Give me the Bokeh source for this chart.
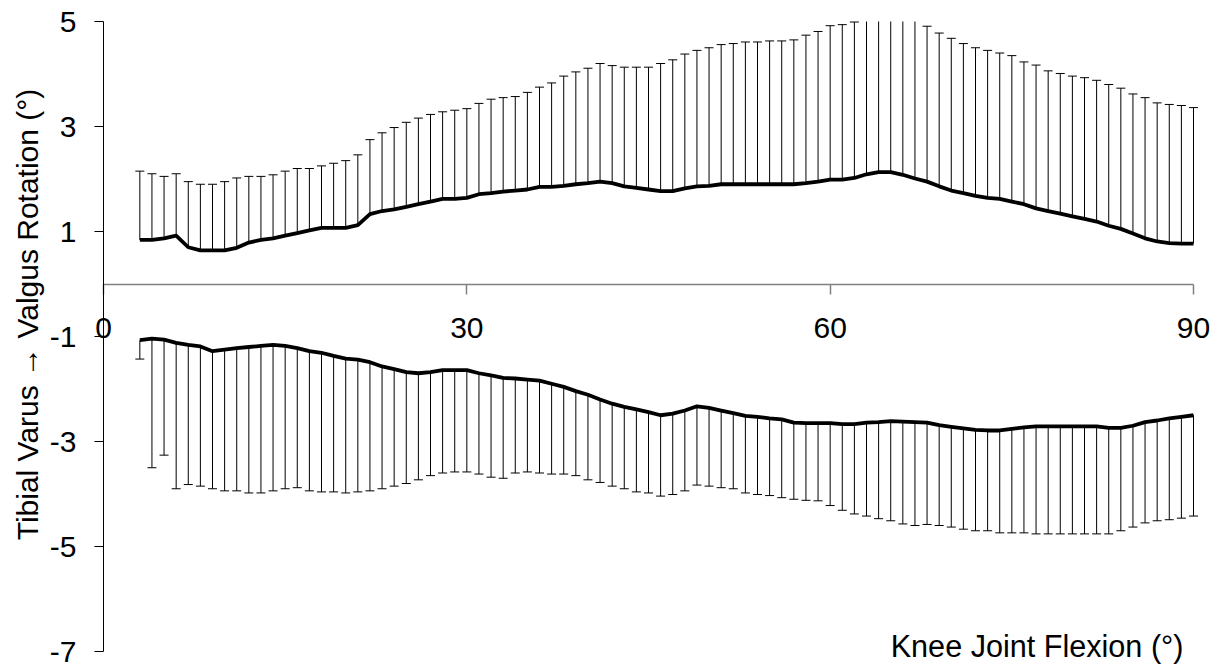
import math
from bokeh.plotting import figure
from bokeh.models import FixedTicker, Range1d, LinearAxis
from bokeh.core.properties import value
from bokeh.embed import file_html
from bokeh.resources import INLINE

# ---------------- data ----------------
flexion = list(range(3, 91))  # knee joint flexion (deg)

valgus_mean = [0.84, 0.84, 0.87, 0.92, 0.70, 0.64, 0.64, 0.64, 0.69, 0.79,
               0.84, 0.87, 0.92, 0.97, 1.02, 1.07, 1.07, 1.07, 1.12, 1.33,
               1.39, 1.42, 1.47, 1.52, 1.57, 1.62, 1.62, 1.64, 1.71, 1.73,
               1.76, 1.78, 1.80, 1.85, 1.85, 1.87, 1.90, 1.92, 1.95, 1.92,
               1.86, 1.83, 1.80, 1.77, 1.77, 1.82, 1.86, 1.87, 1.90, 1.90,
               1.90, 1.90, 1.90, 1.90, 1.90, 1.92, 1.95, 1.99, 1.99, 2.02,
               2.09, 2.13, 2.13, 2.08, 2.01, 1.95, 1.86, 1.78, 1.73, 1.68,
               1.64, 1.62, 1.57, 1.52, 1.44, 1.39, 1.34, 1.29, 1.24, 1.19,
               1.11, 1.05, 0.96, 0.87, 0.81, 0.78, 0.77, 0.77]

valgus_upper = [2.15, 2.10, 2.05, 2.10, 1.95, 1.90, 1.90, 1.95, 2.02, 2.05,
                2.05, 2.08, 2.15, 2.20, 2.20, 2.25, 2.30, 2.35, 2.46, 2.75,
                2.88, 2.98, 3.08, 3.16, 3.23, 3.28, 3.31, 3.34, 3.44, 3.52,
                3.55, 3.57, 3.65, 3.75, 3.83, 3.96, 4.04, 4.11, 4.20, 4.16,
                4.13, 4.13, 4.13, 4.20, 4.27, 4.38, 4.45, 4.50, 4.56, 4.58,
                4.61, 4.61, 4.63, 4.63, 4.65, 4.74, 4.81, 4.92, 4.94, 4.99,
                5.08, 5.12, 5.12, 5.10, 5.04, 4.91, 4.78, 4.68, 4.58, 4.50,
                4.45, 4.40, 4.35, 4.23, 4.17, 4.06, 4.01, 3.96, 3.93, 3.88,
                3.80, 3.73, 3.62, 3.55, 3.45, 3.42, 3.40, 3.36]

varus_mean = [-1.07, -1.04, -1.06, -1.12, -1.16, -1.19, -1.28, -1.25, -1.22, -1.20,
              -1.18, -1.16, -1.18, -1.22, -1.28, -1.31, -1.37, -1.42, -1.44, -1.49,
              -1.57, -1.62, -1.68, -1.70, -1.68, -1.64, -1.64, -1.64, -1.70, -1.74,
              -1.79, -1.80, -1.82, -1.84, -1.90, -1.96, -2.04, -2.11, -2.20, -2.28,
              -2.34, -2.39, -2.44, -2.50, -2.47, -2.41, -2.33, -2.36, -2.41, -2.46,
              -2.51, -2.53, -2.56, -2.58, -2.64, -2.65, -2.65, -2.65, -2.67, -2.67,
              -2.64, -2.63, -2.61, -2.62, -2.63, -2.64, -2.69, -2.72, -2.75, -2.78,
              -2.79, -2.79, -2.76, -2.73, -2.71, -2.71, -2.71, -2.71, -2.71, -2.71,
              -2.74, -2.74, -2.70, -2.63, -2.60, -2.56, -2.53, -2.50]

varus_lower = [-1.43, -3.50, -3.26, -3.90, -3.82, -3.85, -3.90, -3.94, -3.94, -3.98,
               -3.98, -3.94, -3.90, -3.88, -3.94, -3.96, -3.96, -3.98, -3.96, -3.94,
               -3.90, -3.85, -3.80, -3.73, -3.65, -3.60, -3.58, -3.58, -3.62, -3.68,
               -3.70, -3.60, -3.58, -3.60, -3.62, -3.62, -3.65, -3.73, -3.78, -3.85,
               -3.90, -3.96, -3.98, -4.04, -4.01, -3.94, -3.83, -3.85, -3.88, -3.90,
               -3.98, -4.01, -4.03, -4.07, -4.10, -4.12, -4.13, -4.22, -4.31, -4.38,
               -4.42, -4.47, -4.51, -4.57, -4.60, -4.58, -4.60, -4.63, -4.67, -4.70,
               -4.70, -4.74, -4.74, -4.74, -4.76, -4.76, -4.76, -4.76, -4.76, -4.76,
               -4.76, -4.70, -4.63, -4.55, -4.51, -4.49, -4.46, -4.42]

x_ticks = [0, 30, 60, 90]
x_tick_labels = ["0", "30", "60", "90"]
y_ticks = [5, 3, 1, -1, -3, -5, -7]
y_tick_labels = ["5", "3", "1", "-1", "-3", "-5", "-7"]

x_title = "Knee Joint Flexion (°)"
y_title = "Tibial Varus \u2192 Valgus Rotation (°)"

FONT = "Liberation Sans"
FSIZE = "30px"

# ---------------- layout geometry (pixels) ----------------
W, H = 1224, 668
X0_PX, X90_PX = 103, 1193        # where 0 and 90 deg sit
Y5_PX, YM7_PX = 21, 651          # where 5 and -7 sit
Y_MIN, Y_MAX = -7, 5             # value axis extent
ppx = (X90_PX - X0_PX) / 90.0
ppy = (YM7_PX - Y5_PX) / 12.0
x_start = -X0_PX / ppx
x_end = (W - X0_PX) / ppx
y_top = Y_MAX + Y5_PX / ppy
y_bottom = Y_MIN - (H - YM7_PX) / ppy


def px_to_x(px):
    return (px - X0_PX) / ppx


def px_to_y(py):
    return Y_MAX - (py - Y5_PX) / ppy


p = figure(width=W, height=H, output_backend="svg", toolbar_location=None,
           tools="", title=None, x_axis_location=None, y_axis_location=None,
           x_range=Range1d(x_start, x_end), y_range=Range1d(y_bottom, y_top),
           min_border_left=0, min_border_right=0, min_border_top=0,
           min_border_bottom=0)
p.outline_line_color = None
p.background_fill_color = "white"
p.border_fill_color = "white"
p.grid.visible = False

# ---- y axis at x = 0 ----
ya = LinearAxis(fixed_location=0, bounds=(Y_MIN, Y_MAX),
                ticker=FixedTicker(ticks=y_ticks, minor_ticks=[]))
ya.major_label_overrides = {t: s for t, s in zip(y_ticks, y_tick_labels)}
ya.major_label_text_font = FONT
ya.major_label_text_font_size = FSIZE
ya.major_label_text_color = "black"
ya.major_tick_out = 9
ya.major_tick_in = 0
ya.minor_tick_out = 0
ya.minor_tick_in = 0
ya.major_label_standoff = 18
ya.axis_line_color = "black"
ya.major_tick_line_color = "black"
p.add_layout(ya, "left")

# ---- x axis at y = 0 ----
xa = LinearAxis(fixed_location=0, bounds=(x_ticks[0], x_ticks[-1]),
                ticker=FixedTicker(ticks=x_ticks, minor_ticks=[]))
xa.major_label_overrides = {t: s for t, s in zip(x_ticks, x_tick_labels)}
xa.major_label_text_font = FONT
xa.major_label_text_font_size = FSIZE
xa.major_label_text_color = "black"
xa.major_tick_out = 10
xa.major_tick_in = 0
xa.minor_tick_out = 0
xa.minor_tick_in = 0
xa.major_label_standoff = 24
xa.axis_line_color = "#808080"
xa.axis_line_width = 1.5
xa.major_tick_line_color = "#808080"
xa.major_tick_line_width = 1.5
p.add_layout(xa, "below")

# error bars are cut where they leave the value axis (as in the source chart)
valgus_upper_shown = [min(v, Y_MAX) for v in valgus_upper]
cap_x = [x for x, v in zip(flexion, valgus_upper) if v <= Y_MAX]
cap_y = [v for v in valgus_upper if v <= Y_MAX]

# ---- error bars (upper / valgus) ----
p.segment(x0=flexion, y0=valgus_mean, x1=flexion, y1=valgus_upper_shown,
          line_color="black", line_width=1)
p.scatter(x=cap_x, y=cap_y, marker="dash", size=9,
          line_color="black", line_width=1)
# ---- error bars (lower / varus) ----
p.segment(x0=flexion, y0=varus_mean, x1=flexion, y1=varus_lower,
          line_color="black", line_width=1)
p.scatter(x=flexion, y=varus_lower, marker="dash", size=9,
          line_color="black", line_width=1)

# ---- mean lines ----
p.line(x=flexion, y=valgus_mean, line_color="black", line_width=3.8, line_join="round")
p.line(x=flexion, y=varus_mean, line_color="black", line_width=3.8, line_join="round")

# ---- titles ----
p.text(x=[px_to_x(1183)], y=[px_to_y(645)], text=[x_title],
       text_align="right", text_baseline="alphabetic",
       text_font=value(FONT), text_font_size="30.6px", text_color="black")
p.text(x=[px_to_x(27)], y=[px_to_y(314)], text=[y_title],
       angle=math.pi / 2, text_align="center", text_baseline="alphabetic",
       text_font=value(FONT), text_font_size=FSIZE, text_color="black")

open("out.html", "w").write(file_html(p, INLINE))
